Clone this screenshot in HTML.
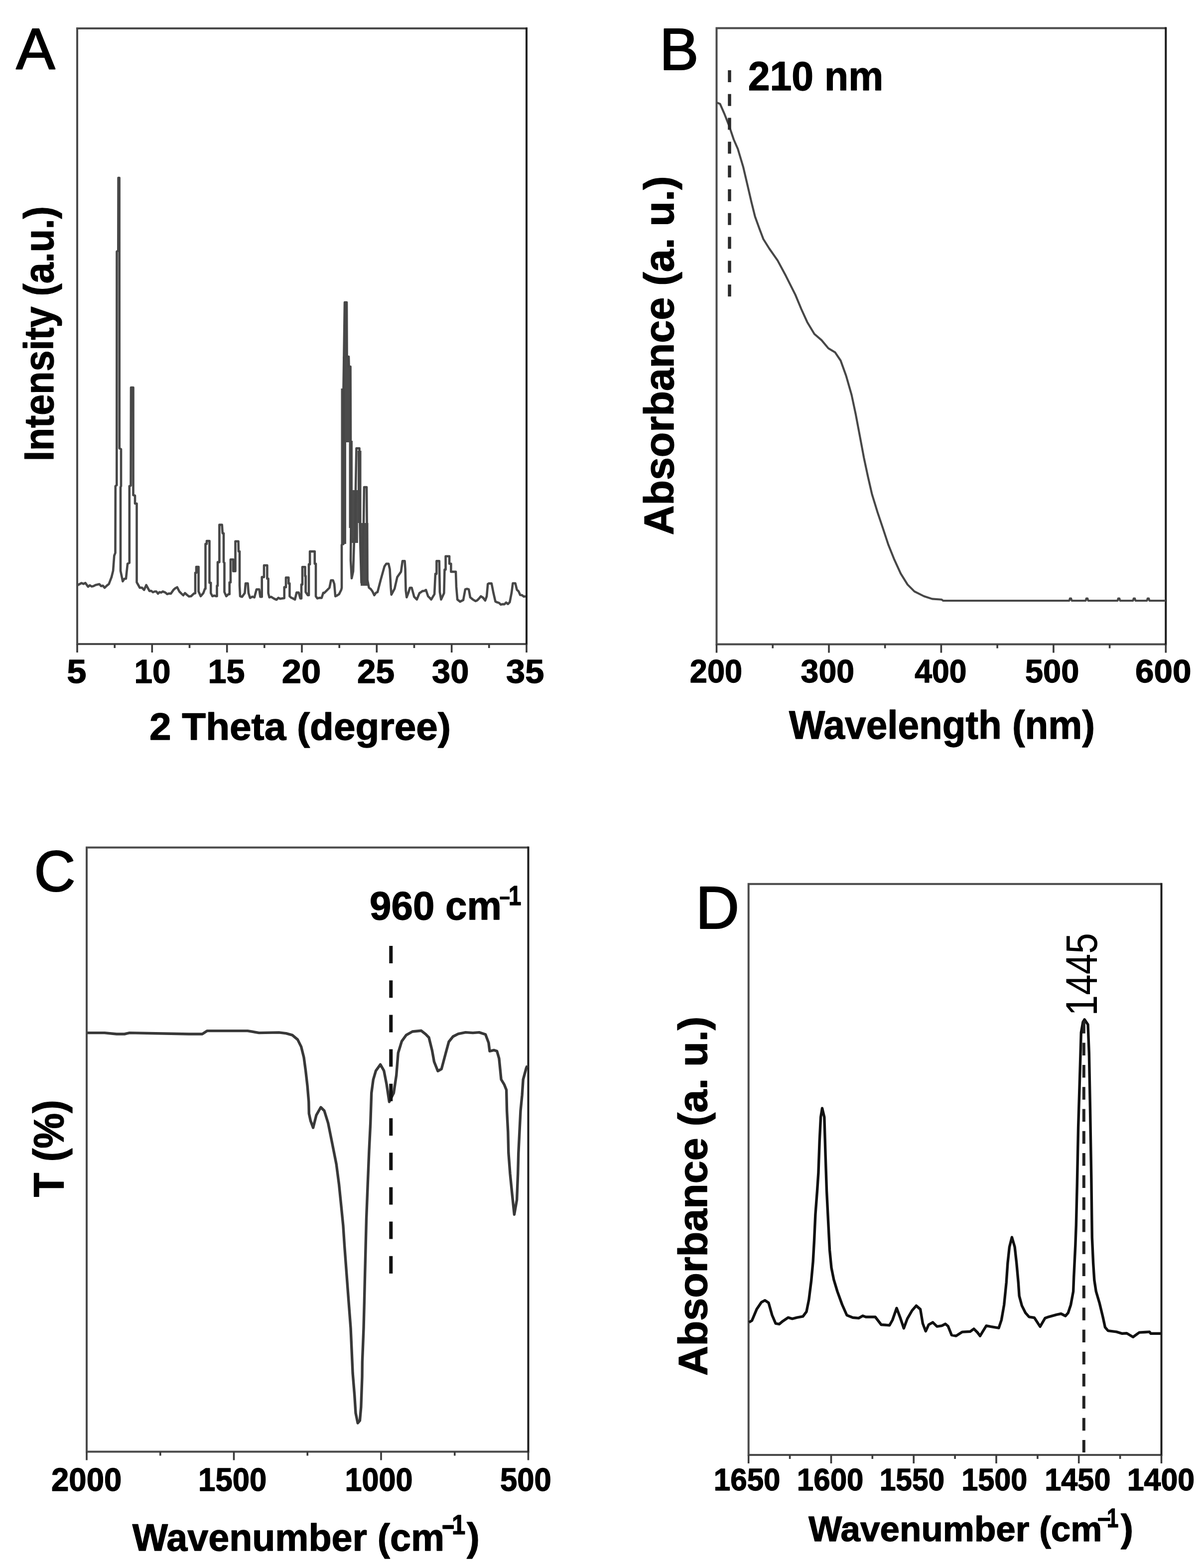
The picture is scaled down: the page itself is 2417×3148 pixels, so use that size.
<!DOCTYPE html>
<html><head><meta charset="utf-8"><title>Figure</title>
<style>html,body{margin:0;padding:0;background:#fff;}svg{display:block;}text{font-family:'Liberation Sans', Arial, sans-serif;fill:#000;}</style>
</head><body>
<svg width="2417" height="3148" viewBox="0 0 2417 3148">
<rect width="2417" height="3148" fill="#fff"/>
<path d="M1057,1293 H155 V57 H1057" fill="none" stroke="#4a4a4a" stroke-width="4" stroke-linejoin="miter"/>
<line x1="1057" y1="55" x2="1057" y2="1295" stroke="#1c1c1c" stroke-width="4"/>
<line x1="155.0" y1="1293" x2="155.0" y2="1310" stroke="#3a3a3a" stroke-width="3.6"/>
<line x1="305.3" y1="1293" x2="305.3" y2="1310" stroke="#3a3a3a" stroke-width="3.6"/>
<line x1="455.7" y1="1293" x2="455.7" y2="1310" stroke="#3a3a3a" stroke-width="3.6"/>
<line x1="606.0" y1="1293" x2="606.0" y2="1310" stroke="#3a3a3a" stroke-width="3.6"/>
<line x1="756.3" y1="1293" x2="756.3" y2="1310" stroke="#3a3a3a" stroke-width="3.6"/>
<line x1="906.7" y1="1293" x2="906.7" y2="1310" stroke="#3a3a3a" stroke-width="3.6"/>
<line x1="1057.0" y1="1293" x2="1057.0" y2="1310" stroke="#3a3a3a" stroke-width="3.6"/>
<line x1="230.2" y1="1293" x2="230.2" y2="1301" stroke="#3a3a3a" stroke-width="3.6"/>
<line x1="380.5" y1="1293" x2="380.5" y2="1301" stroke="#3a3a3a" stroke-width="3.6"/>
<line x1="530.8" y1="1293" x2="530.8" y2="1301" stroke="#3a3a3a" stroke-width="3.6"/>
<line x1="681.2" y1="1293" x2="681.2" y2="1301" stroke="#3a3a3a" stroke-width="3.6"/>
<line x1="831.5" y1="1293" x2="831.5" y2="1301" stroke="#3a3a3a" stroke-width="3.6"/>
<line x1="981.8" y1="1293" x2="981.8" y2="1301" stroke="#3a3a3a" stroke-width="3.6"/>
<path d="M690,607 H698 V716 H690 Z M688,716 H702 V780 H688 Z M684.5,780 H705 V888 H684.5 Z M684.5,888 H695 V1092 H684.5 Z M700.5,885 H708 V1060 H700.5 Z M702.8,984 H718.8 V1090 H702.8 Z M724,1050 H739.5 V1176 H724 Z M718,905 H725.5 V1050 H718 Z" fill="#4c4c4c"/>
<polyline points="156.0,1174.6 159.8,1172.6 163.7,1170.5 167.6,1172.3 171.4,1170.4 176.8,1177.9 180.4,1175.1 183.9,1177.4 187.5,1176.8 191.8,1174.4 196.0,1173.6 199.5,1172.7 203.0,1176.8 206.5,1175.8 210.0,1180.0 214.3,1175.9 218.6,1172.5 223.9,1158.6 227.1,1145.7 229.3,1115.7 231.5,1110.0 231.8,976.0 234.3,974.0 234.5,505.0 237.3,503.0 237.6,357.0 239.6,357.0 239.8,900.0 243.0,902.0 243.0,976.0 242.0,978.0 242.0,1146.0 246.4,1167.1 249.7,1162.0 252.9,1161.8 256.1,1131.8 259.8,1130.0 259.8,976.0 262.5,975.0 263.0,778.0 267.5,778.0 267.5,994.0 271.0,995.0 271.0,1011.0 274.5,1011.0 274.5,1169.0 280.7,1180.0 285.0,1179.9 289.3,1184.3 293.6,1174.6 300.0,1186.4 303.6,1186.3 307.1,1189.0 310.7,1187.5 313.9,1187.5 317.1,1191.8 320.3,1188.8 323.6,1189.6 326.8,1187.5 332.0,1189.6 335.6,1192.8 339.3,1191.5 342.9,1191.8 348.2,1184.3 351.9,1181.1 355.7,1179.0 360.0,1187.5 364.3,1191.8 367.9,1195.2 371.4,1190.7 375.0,1194.0 379.3,1197.5 383.6,1197.0 389.0,1191.8 392.0,1191.0 392.0,1150.0 394.0,1150.0 394.0,1138.0 398.6,1138.0 398.6,1187.5 402.9,1197.0 408.2,1190.7 411.4,1182.0 412.5,1182.0 412.5,1092.0 415.0,1092.0 415.0,1086.0 420.5,1086.0 420.5,1170.0 423.2,1170.0 423.2,1190.7 426.4,1197.0 430.2,1195.8 434.0,1197.0 435.5,1197.0 435.5,1176.0 437.0,1176.0 437.0,1128.6 440.4,1128.6 440.4,1053.6 445.7,1053.6 446.8,1070.7 449.0,1070.7 449.0,1128.6 450.5,1130.0 450.5,1188.6 454.3,1197.0 458.6,1192.9 460.7,1192.9 460.7,1169.3 462.9,1169.3 462.9,1123.2 468.2,1123.2 468.2,1146.8 472.5,1146.8 472.5,1086.8 478.5,1086.8 478.9,1107.0 481.0,1107.0 481.0,1175.7 482.0,1197.0 486.0,1198.2 491.4,1190.7 493.0,1171.4 497.5,1171.4 498.9,1190.7 502.0,1200.4 506.4,1197.9 510.7,1199.3 515.0,1183.2 520.4,1183.2 522.5,1198.2 525.7,1198.2 525.7,1158.6 530.0,1158.6 530.0,1135.0 536.4,1135.0 536.4,1161.8 538.6,1161.8 538.6,1190.7 540.7,1199.3 544.3,1198.2 547.8,1200.4 551.4,1202.5 555.1,1204.0 558.9,1200.2 562.6,1202.1 566.4,1201.4 570.7,1201.0 570.7,1178.9 574.0,1178.9 574.0,1159.6 579.3,1159.6 579.3,1171.4 581.4,1171.4 581.4,1197.1 584.6,1200.0 587.9,1201.4 592.1,1203.6 595.4,1189.6 599.6,1189.6 602.9,1201.4 605.0,1201.4 605.0,1173.6 607.0,1173.6 607.0,1138.2 612.5,1138.2 612.5,1156.4 613.6,1156.4 613.6,1188.6 617.9,1195.0 620.0,1195.0 620.0,1132.9 622.1,1132.9 622.1,1107.1 631.8,1107.1 631.8,1131.8 634.0,1131.8 634.0,1197.1 637.1,1201.4 641.4,1200.2 645.7,1200.4 649.0,1190.0 650.7,1190.7 656.1,1185.4 661.4,1180.0 664.5,1165.0 668.5,1165.0 671.1,1172.5 673.2,1197.1 677.0,1195.3 680.7,1192.9 685.0,1184.3 686.0,1180.0 686.0,1094.0 689.5,1092.0 689.5,780.0 692.0,607.0 696.0,607.0 696.5,716.0 700.0,716.0 700.5,736.0 703.5,736.0 704.0,885.0 704.5,1060.0 704.0,1125.0 706.0,1161.0 709.0,1147.0 711.0,1082.0 713.0,1082.0 714.0,981.0 715.5,900.0 721.5,900.0 722.5,1050.0 723.5,1100.0 725.5,1170.0 728.0,1101.0 730.0,1051.0 731.0,978.0 736.0,978.0 736.5,1038.0 737.5,1164.0 740.7,1180.0 744.3,1182.6 747.8,1187.5 751.4,1195.0 754.6,1190.2 757.9,1188.6 764.3,1164.0 771.8,1137.1 775.5,1131.8 780.0,1131.8 782.5,1142.5 784.6,1180.0 785.7,1193.9 792.1,1182.0 797.5,1158.6 805.0,1147.9 808.0,1126.4 812.5,1126.4 813.6,1142.5 814.6,1185.4 816.4,1199.3 819.6,1190.7 822.9,1180.0 826.5,1180.0 831.4,1198.2 836.8,1203.6 842.1,1190.7 845.3,1188.7 848.5,1186.5 851.8,1186.4 855.0,1184.3 859.3,1197.1 862.5,1200.1 865.7,1203.6 872.1,1192.9 874.0,1152.1 876.4,1152.1 876.4,1126.4 881.8,1126.4 882.9,1188.6 885.5,1203.6 891.4,1190.7 892.5,1143.6 894.6,1143.6 894.6,1116.8 902.1,1116.8 902.1,1131.8 905.4,1131.8 905.4,1147.9 915.0,1147.9 916.0,1177.9 918.2,1203.6 923.6,1207.9 930.0,1204.6 934.0,1183.2 937.5,1182.1 941.0,1183.2 944.0,1199.3 949.3,1203.6 954.6,1206.8 958.2,1205.2 961.8,1201.4 965.4,1197.1 969.7,1200.0 974.0,1205.7 977.1,1197.1 979.3,1172.5 981.4,1171.4 986.8,1171.4 990.6,1190.6 994.5,1207.6 998.1,1209.3 1001.8,1210.4 1005.4,1213.7 1009.0,1212.9 1012.6,1213.2 1016.1,1209.7 1019.7,1212.6 1023.3,1208.9 1027.0,1190.0 1029.5,1171.0 1034.5,1171.0 1037.7,1184.0 1041.0,1187.1 1044.3,1194.5 1047.9,1194.9 1051.4,1197.7 1055.0,1197.2" fill="none" stroke="#474747" stroke-width="4.6" stroke-linejoin="round"/>
<path d="M2340.3,1293.5 H1438.5 V56.5 H2340.3" fill="none" stroke="#4a4a4a" stroke-width="4" stroke-linejoin="miter"/>
<line x1="2340.3" y1="54.5" x2="2340.3" y2="1295.5" stroke="#1c1c1c" stroke-width="4"/>
<line x1="1438.5" y1="1293.5" x2="1438.5" y2="1310.5" stroke="#3a3a3a" stroke-width="3.6"/>
<line x1="1664.0" y1="1293.5" x2="1664.0" y2="1310.5" stroke="#3a3a3a" stroke-width="3.6"/>
<line x1="1889.4" y1="1293.5" x2="1889.4" y2="1310.5" stroke="#3a3a3a" stroke-width="3.6"/>
<line x1="2114.9" y1="1293.5" x2="2114.9" y2="1310.5" stroke="#3a3a3a" stroke-width="3.6"/>
<line x1="2340.3" y1="1293.5" x2="2340.3" y2="1310.5" stroke="#3a3a3a" stroke-width="3.6"/>
<line x1="1551.2" y1="1293.5" x2="1551.2" y2="1301.5" stroke="#3a3a3a" stroke-width="3.6"/>
<line x1="1776.7" y1="1293.5" x2="1776.7" y2="1301.5" stroke="#3a3a3a" stroke-width="3.6"/>
<line x1="2002.1" y1="1293.5" x2="2002.1" y2="1301.5" stroke="#3a3a3a" stroke-width="3.6"/>
<line x1="2227.6" y1="1293.5" x2="2227.6" y2="1301.5" stroke="#3a3a3a" stroke-width="3.6"/>
<polyline points="1439.5,206.2 1445.5,208.6 1453.8,227.6 1463.3,251.4 1472.9,280.0 1481.2,299.0 1491.9,334.8 1501.4,375.2 1508.6,406.2 1515.7,434.8 1525.2,461.0 1532.4,480.0 1544.3,499.0 1561.0,522.9 1577.6,553.8 1596.7,591.9 1608.6,620.5 1620.5,646.7 1634.8,670.5 1649.2,682.9 1662.9,699.3 1676.6,707.6 1687.6,724.0 1698.5,754.2 1709.5,792.6 1717.7,831.0 1726.0,874.8 1734.2,918.7 1742.4,957.0 1750.6,992.7 1761.6,1028.3 1772.6,1061.2 1783.5,1094.1 1794.5,1121.6 1808.2,1151.7 1821.9,1173.6 1835.6,1187.4 1854.8,1197.0 1871.3,1202.4 1890.5,1203.8 1893.2,1206.0 2146.5,1206.0 2147.8,1201.5 2150.2,1201.5 2151.5,1206.0 2179.5,1206.0 2180.8,1201.5 2183.2,1201.5 2184.5,1206.0 2243.5,1206.0 2244.8,1201.5 2247.2,1201.5 2248.5,1206.0 2274.5,1206.0 2275.8,1201.5 2278.2,1201.5 2279.5,1206.0 2302.5,1206.0 2303.8,1201.5 2306.2,1201.5 2307.5,1206.0 2340.0,1206.0" fill="none" stroke="#474747" stroke-width="4.1" stroke-linejoin="round"/>
<line x1="1464.5" y1="141" x2="1464.5" y2="598" stroke="#2a2a2a" stroke-width="6.5" stroke-dasharray="24 23.8"/>
<path d="M1060.5,2914.5 H174 V1701.5 H1060.5" fill="none" stroke="#4a4a4a" stroke-width="4" stroke-linejoin="miter"/>
<line x1="1060.5" y1="1699.5" x2="1060.5" y2="2916.5" stroke="#1c1c1c" stroke-width="4"/>
<line x1="174.0" y1="2914.5" x2="174.0" y2="2931.5" stroke="#3a3a3a" stroke-width="3.6"/>
<line x1="469.5" y1="2914.5" x2="469.5" y2="2931.5" stroke="#3a3a3a" stroke-width="3.6"/>
<line x1="765.0" y1="2914.5" x2="765.0" y2="2931.5" stroke="#3a3a3a" stroke-width="3.6"/>
<line x1="1060.5" y1="2914.5" x2="1060.5" y2="2931.5" stroke="#3a3a3a" stroke-width="3.6"/>
<line x1="321.8" y1="2914.5" x2="321.8" y2="2922.5" stroke="#3a3a3a" stroke-width="3.6"/>
<line x1="617.2" y1="2914.5" x2="617.2" y2="2922.5" stroke="#3a3a3a" stroke-width="3.6"/>
<line x1="912.8" y1="2914.5" x2="912.8" y2="2922.5" stroke="#3a3a3a" stroke-width="3.6"/>
<polyline points="175.0,2073.6 210.0,2073.6 234.0,2076.0 250.0,2076.0 260.0,2073.6 379.0,2076.0 406.0,2076.0 416.0,2069.6 497.0,2069.6 520.0,2073.6 560.0,2072.9 574.3,2074.6 586.8,2078.2 597.5,2087.1 604.6,2101.4 610.0,2122.9 613.6,2149.6 617.1,2180.0 619.8,2212.0 620.3,2235.6 623.4,2250.0 628.6,2264.0 635.0,2238.9 644.0,2223.0 651.0,2230.0 658.7,2254.8 667.0,2296.0 675.2,2337.1 680.6,2378.2 684.8,2419.4 688.9,2460.5 691.6,2501.6 695.7,2556.5 699.8,2611.3 704.0,2666.1 705.7,2703.6 708.1,2757.0 711.7,2801.0 714.0,2837.0 718.2,2857.0 722.4,2852.0 724.8,2825.0 727.0,2764.0 727.3,2734.7 730.0,2666.1 731.4,2611.3 732.7,2556.5 734.1,2501.6 735.5,2446.8 738.2,2378.2 741.0,2309.7 743.7,2254.8 745.7,2194.3 749.3,2167.5 754.6,2149.6 763.6,2137.1 770.7,2149.6 776.0,2176.4 781.4,2212.0 790.4,2194.3 795.7,2158.6 799.3,2113.9 806.4,2090.7 815.4,2078.2 827.9,2071.0 845.7,2069.3 854.6,2076.4 861.0,2083.0 867.3,2108.3 871.5,2131.4 878.9,2150.3 886.3,2146.1 894.7,2114.6 901.0,2091.5 909.4,2081.0 919.9,2075.7 934.6,2072.6 949.3,2073.6 961.9,2072.6 974.6,2076.8 980.9,2093.6 983.0,2110.4 991.4,2108.3 997.7,2110.4 1001.9,2125.1 1004.0,2146.1 1006.1,2167.2 1012.4,2177.7 1016.6,2188.2 1017.6,2230.2 1019.8,2272.3 1020.8,2314.3 1024.0,2356.4 1028.2,2398.4 1032.4,2438.4 1037.6,2408.9 1039.7,2356.4 1040.8,2314.3 1042.9,2272.3 1045.0,2230.2 1048.1,2198.7 1050.2,2167.2 1056.5,2144.0 1058.6,2139.8" fill="none" stroke="#383838" stroke-width="5.4" stroke-linejoin="round"/>
<line x1="784.8" y1="1899" x2="784.8" y2="2557" stroke="#111" stroke-width="7" stroke-dasharray="35 34.2"/>
<path d="M2331.5,2921 H1502.7 V1774.8 H2331.5" fill="none" stroke="#4a4a4a" stroke-width="4" stroke-linejoin="miter"/>
<line x1="2331.5" y1="1772.8" x2="2331.5" y2="2923" stroke="#1c1c1c" stroke-width="4"/>
<line x1="1502.7" y1="2921" x2="1502.7" y2="2938" stroke="#3a3a3a" stroke-width="3.6"/>
<line x1="1668.5" y1="2921" x2="1668.5" y2="2938" stroke="#3a3a3a" stroke-width="3.6"/>
<line x1="1834.2" y1="2921" x2="1834.2" y2="2938" stroke="#3a3a3a" stroke-width="3.6"/>
<line x1="2000.0" y1="2921" x2="2000.0" y2="2938" stroke="#3a3a3a" stroke-width="3.6"/>
<line x1="2165.7" y1="2921" x2="2165.7" y2="2938" stroke="#3a3a3a" stroke-width="3.6"/>
<line x1="2331.5" y1="2921" x2="2331.5" y2="2938" stroke="#3a3a3a" stroke-width="3.6"/>
<line x1="1585.6" y1="2921" x2="1585.6" y2="2929" stroke="#3a3a3a" stroke-width="3.6"/>
<line x1="1751.3" y1="2921" x2="1751.3" y2="2929" stroke="#3a3a3a" stroke-width="3.6"/>
<line x1="1917.1" y1="2921" x2="1917.1" y2="2929" stroke="#3a3a3a" stroke-width="3.6"/>
<line x1="2082.9" y1="2921" x2="2082.9" y2="2929" stroke="#3a3a3a" stroke-width="3.6"/>
<line x1="2248.6" y1="2921" x2="2248.6" y2="2929" stroke="#3a3a3a" stroke-width="3.6"/>
<polyline points="1503.6,2654.8 1509.5,2651.2 1519.0,2628.6 1528.6,2614.3 1535.7,2610.7 1542.9,2615.5 1550.0,2640.5 1557.1,2657.1 1564.3,2658.3 1571.4,2652.4 1582.1,2645.2 1590.5,2647.6 1600.0,2645.2 1611.9,2642.9 1619.0,2633.3 1623.8,2609.5 1628.6,2571.4 1632.1,2533.3 1634.5,2490.5 1636.9,2438.1 1640.5,2390.5 1642.9,2354.8 1645.2,2290.5 1647.6,2242.9 1650.5,2225.0 1654.8,2242.9 1657.1,2319.0 1659.5,2390.5 1663.1,2461.9 1665.5,2509.5 1669.0,2545.2 1673.8,2569.0 1681.0,2592.9 1690.5,2619.0 1700.0,2640.5 1711.9,2645.2 1723.8,2646.4 1732.1,2641.7 1738.1,2644.0 1757.1,2644.0 1769.0,2659.5 1785.7,2660.7 1791.7,2650.0 1800.0,2626.2 1807.1,2645.2 1814.3,2666.7 1821.4,2647.6 1831.0,2631.0 1839.3,2621.4 1847.6,2628.6 1852.4,2657.1 1858.3,2672.6 1864.3,2659.5 1872.6,2654.8 1881.0,2663.1 1890.7,2661.6 1897.9,2658.0 1903.2,2662.5 1910.4,2680.4 1919.3,2682.1 1931.8,2674.1 1947.9,2673.2 1955.0,2667.9 1962.1,2675.0 1967.5,2682.1 1972.9,2673.2 1980.0,2661.6 1988.9,2663.4 2005.0,2666.1 2010.4,2650.0 2015.7,2619.6 2020.2,2575.0 2022.9,2535.7 2026.4,2503.6 2031.4,2483.9 2037.1,2503.6 2040.7,2535.7 2044.3,2575.0 2046.1,2601.8 2051.4,2621.4 2058.6,2635.7 2065.7,2643.8 2076.4,2645.5 2088.0,2663.4 2097.9,2646.4 2105.0,2643.8 2121.1,2639.3 2130.0,2637.5 2138.9,2642.0 2144.3,2635.7 2149.6,2619.6 2154.6,2592.8 2155.7,2564.2 2158.8,2500.0 2160.3,2460.0 2162.3,2377.0 2164.6,2262.8 2168.0,2150.8 2170.3,2073.0 2174.0,2052.0 2177.1,2046.8 2184.0,2057.0 2186.3,2114.3 2188.5,2228.5 2190.8,2365.6 2192.3,2484.3 2194.6,2535.7 2196.8,2570.0 2200.3,2592.8 2207.1,2615.7 2214.0,2644.2 2218.5,2664.8 2224.3,2671.6 2241.4,2673.9 2252.8,2677.3 2262.0,2676.8 2274.5,2684.2 2287.1,2675.1 2298.5,2674.5 2307.7,2673.9 2310.0,2677.3 2331.0,2677.3" fill="none" stroke="#111" stroke-width="5.4" stroke-linejoin="round"/>
<line x1="2175.8" y1="2045" x2="2175.8" y2="2916" stroke="#222" stroke-width="6" stroke-dasharray="25.5 18.8" stroke-dashoffset="40"/>
<text x="32.2" y="139" font-size="117.48" font-weight="normal" text-anchor="start" stroke="#000" stroke-width="2.2" stroke-linejoin="round">A</text>
<text x="106.6" y="926" font-size="83.9" font-weight="bold" text-anchor="start" textLength="512.01" lengthAdjust="spacingAndGlyphs" transform="rotate(-90 106.6 926)" stroke="#000" stroke-width="1.3" stroke-linejoin="round">Intensity (a.u.)</text>
<text x="134.3" y="1370.8" font-size="66.36" font-weight="bold" text-anchor="start" textLength="39.22" lengthAdjust="spacingAndGlyphs" stroke="#000" stroke-width="1.3" stroke-linejoin="round">5</text>
<text x="269.4" y="1370.8" font-size="66.36" font-weight="bold" text-anchor="start" textLength="73.11" lengthAdjust="spacingAndGlyphs" stroke="#000" stroke-width="1.3" stroke-linejoin="round">10</text>
<text x="417.6" y="1370.8" font-size="66.36" font-weight="bold" text-anchor="start" textLength="74.04" lengthAdjust="spacingAndGlyphs" stroke="#000" stroke-width="1.3" stroke-linejoin="round">15</text>
<text x="565.7" y="1370.8" font-size="66.36" font-weight="bold" text-anchor="start" textLength="78.48" lengthAdjust="spacingAndGlyphs" stroke="#000" stroke-width="1.3" stroke-linejoin="round">20</text>
<text x="717" y="1370.8" font-size="66.36" font-weight="bold" text-anchor="start" textLength="75.16" lengthAdjust="spacingAndGlyphs" stroke="#000" stroke-width="1.3" stroke-linejoin="round">25</text>
<text x="867.1" y="1370.8" font-size="66.36" font-weight="bold" text-anchor="start" textLength="74.23" lengthAdjust="spacingAndGlyphs" stroke="#000" stroke-width="1.3" stroke-linejoin="round">30</text>
<text x="1016" y="1370.8" font-size="66.36" font-weight="bold" text-anchor="start" textLength="76.33" lengthAdjust="spacingAndGlyphs" stroke="#000" stroke-width="1.3" stroke-linejoin="round">35</text>
<text x="300" y="1484.5" font-size="76.71" font-weight="bold" text-anchor="start" textLength="604.98" lengthAdjust="spacingAndGlyphs" stroke="#000" stroke-width="1.3" stroke-linejoin="round">2 Theta (degree)</text>
<text x="1324.0" y="139.6" font-size="117.79" font-weight="normal" text-anchor="start" stroke="#000" stroke-width="2.2" stroke-linejoin="round">B</text>
<text x="1501.7" y="181" font-size="80.84" font-weight="bold" text-anchor="start" textLength="271.6" lengthAdjust="spacingAndGlyphs" stroke="#000" stroke-width="1.3" stroke-linejoin="round">210 nm</text>
<text x="1352.4" y="1074.2" font-size="84.04" font-weight="bold" text-anchor="start" textLength="720.61" lengthAdjust="spacingAndGlyphs" transform="rotate(-90 1352.4 1074.2)" stroke="#000" stroke-width="1.3" stroke-linejoin="round">Absorbance (a. u.)</text>
<text x="1384.8" y="1370" font-size="63.97" font-weight="bold" text-anchor="start" textLength="105.27" lengthAdjust="spacingAndGlyphs" stroke="#000" stroke-width="1.3" stroke-linejoin="round">200</text>
<text x="1607.6" y="1370" font-size="63.97" font-weight="bold" text-anchor="start" textLength="107.36" lengthAdjust="spacingAndGlyphs" stroke="#000" stroke-width="1.3" stroke-linejoin="round">300</text>
<text x="1836.2" y="1370" font-size="63.97" font-weight="bold" text-anchor="start" textLength="104.25" lengthAdjust="spacingAndGlyphs" stroke="#000" stroke-width="1.3" stroke-linejoin="round">400</text>
<text x="2058" y="1370" font-size="63.97" font-weight="bold" text-anchor="start" textLength="108.29" lengthAdjust="spacingAndGlyphs" stroke="#000" stroke-width="1.3" stroke-linejoin="round">500</text>
<text x="2279" y="1370" font-size="63.97" font-weight="bold" text-anchor="start" textLength="112.42" lengthAdjust="spacingAndGlyphs" stroke="#000" stroke-width="1.3" stroke-linejoin="round">600</text>
<text x="1584.1" y="1482.8" font-size="79.75" font-weight="bold" text-anchor="start" textLength="613.81" lengthAdjust="spacingAndGlyphs" stroke="#000" stroke-width="1.3" stroke-linejoin="round">Wavelength (nm)</text>
<text x="68.6" y="1789.0" font-size="114.75" font-weight="normal" text-anchor="start" stroke="#000" stroke-width="2.2" stroke-linejoin="round">C</text>
<text x="742.1" y="1846.4" font-size="79.98" font-weight="bold" text-anchor="start" textLength="264.82" lengthAdjust="spacingAndGlyphs" stroke="#000" stroke-width="1.3" stroke-linejoin="round">960 cm</text>
<text x="1002" y="1812" font-size="36.82" font-weight="bold" text-anchor="start" textLength="22.57" lengthAdjust="spacingAndGlyphs" stroke="#000" stroke-width="1.3" stroke-linejoin="round">-</text>
<text x="1021.0" y="1817" font-size="56.16" font-weight="bold" text-anchor="start" textLength="25.37" lengthAdjust="spacingAndGlyphs" stroke="#000" stroke-width="1.3" stroke-linejoin="round">1</text>
<text x="126.9" y="2403.3" font-size="84.65" font-weight="bold" text-anchor="start" textLength="195.23" lengthAdjust="spacingAndGlyphs" transform="rotate(-90 126.9 2403.3)" stroke="#000" stroke-width="1.3" stroke-linejoin="round">T (%)</text>
<text x="103" y="2993.0" font-size="64.52" font-weight="bold" text-anchor="start" textLength="141.31" lengthAdjust="spacingAndGlyphs" stroke="#000" stroke-width="1.3" stroke-linejoin="round">2000</text>
<text x="398.1" y="2993.0" font-size="64.52" font-weight="bold" text-anchor="start" textLength="137.38" lengthAdjust="spacingAndGlyphs" stroke="#000" stroke-width="1.3" stroke-linejoin="round">1500</text>
<text x="692.4" y="2993.0" font-size="64.52" font-weight="bold" text-anchor="start" textLength="136.28" lengthAdjust="spacingAndGlyphs" stroke="#000" stroke-width="1.3" stroke-linejoin="round">1000</text>
<text x="1004" y="2993.0" font-size="64.52" font-weight="bold" text-anchor="start" textLength="102.94" lengthAdjust="spacingAndGlyphs" stroke="#000" stroke-width="1.3" stroke-linejoin="round">500</text>
<text x="265.8" y="3112.8" font-size="76.7" font-weight="bold" text-anchor="start" textLength="626.25" lengthAdjust="spacingAndGlyphs" stroke="#000" stroke-width="1.3" stroke-linejoin="round">Wavenumber (cm</text>
<text x="886.0" y="3080.0" font-size="55.82" font-weight="bold" text-anchor="start" textLength="27.5" lengthAdjust="spacingAndGlyphs" stroke="#000" stroke-width="1.3" stroke-linejoin="round">-</text>
<text x="907.0" y="3080.4" font-size="56.37" font-weight="bold" text-anchor="start" textLength="27.34" lengthAdjust="spacingAndGlyphs" stroke="#000" stroke-width="1.3" stroke-linejoin="round">1</text>
<text x="937.0" y="3112.8" font-size="77.68" font-weight="bold" text-anchor="start" stroke="#000" stroke-width="1.3" stroke-linejoin="round">)</text>
<text x="1396.4" y="1864.4" font-size="121.38" font-weight="normal" text-anchor="start" stroke="#000" stroke-width="2.2" stroke-linejoin="round">D</text>
<text x="2202.4" y="2039.4" font-size="89.1" font-weight="normal" text-anchor="start" textLength="166.3" lengthAdjust="spacingAndGlyphs" transform="rotate(-90 2202.4 2039.4)">1445</text>
<text x="1419" y="2762" font-size="81.27" font-weight="bold" text-anchor="start" textLength="721.21" lengthAdjust="spacingAndGlyphs" transform="rotate(-90 1419 2762)" stroke="#000" stroke-width="1.3" stroke-linejoin="round">Absorbance (a. u.)</text>
<text x="1432.8" y="2991.8" font-size="62.65" font-weight="bold" text-anchor="start" textLength="133.68" lengthAdjust="spacingAndGlyphs" stroke="#000" stroke-width="1.3" stroke-linejoin="round">1650</text>
<text x="1599.8" y="2991.8" font-size="62.65" font-weight="bold" text-anchor="start" textLength="133.68" lengthAdjust="spacingAndGlyphs" stroke="#000" stroke-width="1.3" stroke-linejoin="round">1600</text>
<text x="1765.7" y="2991.8" font-size="62.65" font-weight="bold" text-anchor="start" textLength="130.46" lengthAdjust="spacingAndGlyphs" stroke="#000" stroke-width="1.3" stroke-linejoin="round">1550</text>
<text x="1930.2" y="2991.8" font-size="62.65" font-weight="bold" text-anchor="start" textLength="132.1" lengthAdjust="spacingAndGlyphs" stroke="#000" stroke-width="1.3" stroke-linejoin="round">1500</text>
<text x="2097.3" y="2991.8" font-size="62.65" font-weight="bold" text-anchor="start" textLength="132.13" lengthAdjust="spacingAndGlyphs" stroke="#000" stroke-width="1.3" stroke-linejoin="round">1450</text>
<text x="2262.7" y="2991.8" font-size="62.65" font-weight="bold" text-anchor="start" textLength="135.54" lengthAdjust="spacingAndGlyphs" stroke="#000" stroke-width="1.3" stroke-linejoin="round">1400</text>
<text x="1623.2" y="3093.6" font-size="69.98" font-weight="bold" text-anchor="start" textLength="589.25" lengthAdjust="spacingAndGlyphs" stroke="#000" stroke-width="1.3" stroke-linejoin="round">Wavenumber (cm</text>
<text x="2202" y="3062" font-size="42.62" font-weight="bold" text-anchor="start" textLength="28.94" lengthAdjust="spacingAndGlyphs" stroke="#000" stroke-width="1.3" stroke-linejoin="round">-</text>
<text x="2222" y="3065.7" font-size="53.17" font-weight="bold" text-anchor="start" textLength="23.43" lengthAdjust="spacingAndGlyphs" stroke="#000" stroke-width="1.3" stroke-linejoin="round">1</text>
<text x="2250" y="3094.4" font-size="75.08" font-weight="bold" text-anchor="start" stroke="#000" stroke-width="1.3" stroke-linejoin="round">)</text>
</svg>
</body></html>
